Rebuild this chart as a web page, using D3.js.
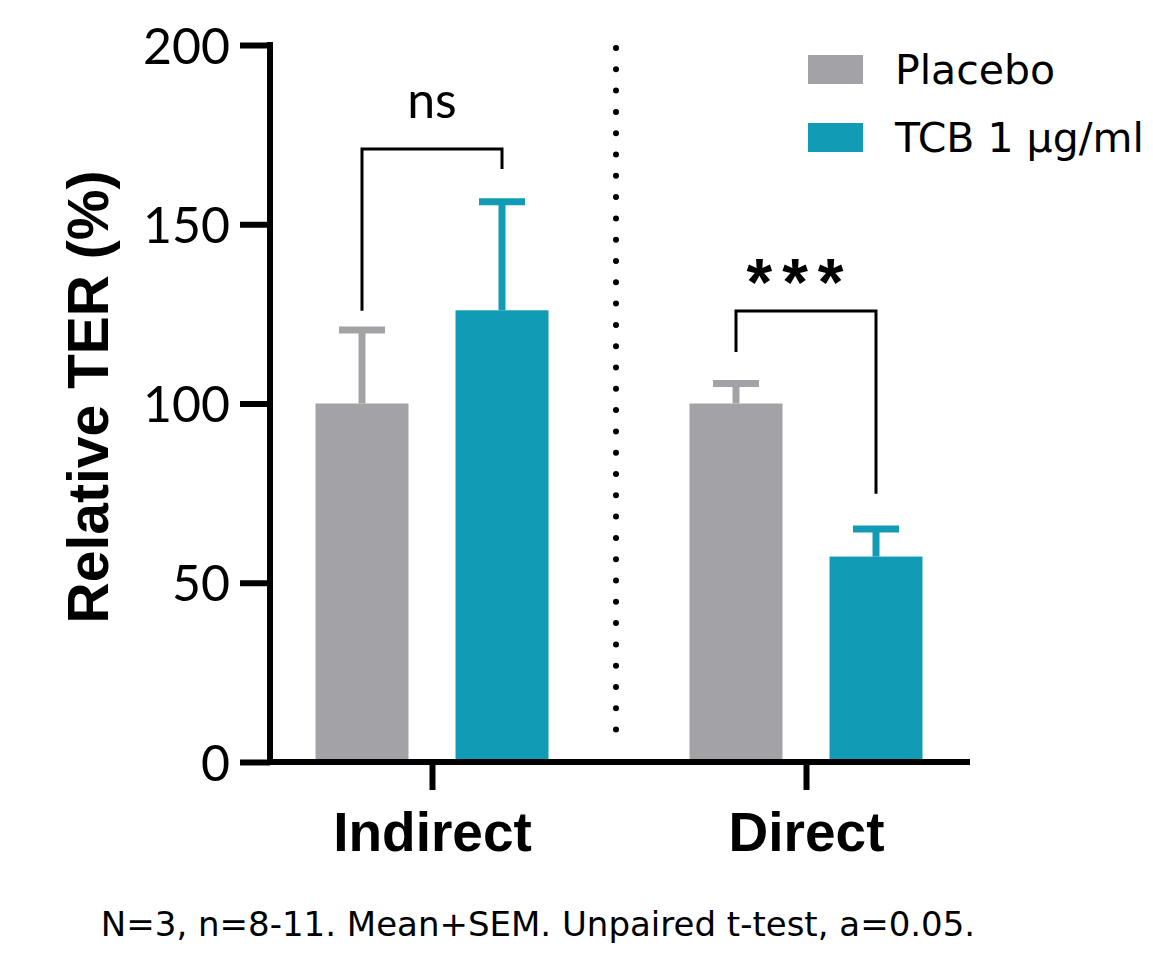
<!DOCTYPE html>
<html><head><meta charset="utf-8">
<script src="https://cdn.jsdelivr.net/npm/d3@7"></script>
<style>body{margin:0;background:#fff;} svg{display:block;}</style>
</head><body>
<svg id="c" width="1153" height="958"></svg>
<script>
const groups = ["Indirect", "Direct"];
const series = ["Placebo", "TCB 1 µg/ml"];
const colors = ["#a3a2a7", "#119bb5"];
const means = [[100, 126], [100, 57.3]];
const sem = [[20.5, 30.3], [5.6, 7.7]];
const yTicks = [0, 50, 100, 150, 200];
const sigLabels = ["ns", "***"];
const sigTop = [171, 125.8];
const sigLegs = [[125.9, 165.4], [114.4, 74.8]];
const footer = "N=3, n=8-11. Mean+SEM. Unpaired t-test, a=0.05.";
const yTitle = "Relative TER (%)";

const svg = d3.select("#c");
const regFont = "'Lato', 'Open Sans', sans-serif";
const wideFont = "'DejaVu Sans', sans-serif";
const boldFont = "'Liberation Sans', Arial, sans-serif";

const y = d3.scaleLinear().domain([0, 200]).range([762, 45]);
const x0 = d3.scaleBand().domain(groups).range([245, 993]).padding(0);
const x1 = d3.scalePoint().domain(series).range([117, 257]);
const barW = 93;

// bars
groups.forEach((g, gi) => {
  series.forEach((s, si) => {
    const cx = x0(g) + x1(s);
    const v = means[gi][si], e = sem[gi][si];
    svg.append("rect").attr("x", cx - barW / 2).attr("y", y(v))
      .attr("width", barW).attr("height", y(0) - y(v)).attr("fill", colors[si]);
    svg.append("line").attr("x1", cx).attr("x2", cx).attr("y1", y(v)).attr("y2", y(v + e))
      .attr("stroke", colors[si]).attr("stroke-width", 7);
    svg.append("line").attr("x1", cx - 23).attr("x2", cx + 23).attr("y1", y(v + e)).attr("y2", y(v + e))
      .attr("stroke", colors[si]).attr("stroke-width", 7);
  });
  // significance bracket
  const lx = x0(g) + x1(series[0]), rx = x0(g) + x1(series[1]);
  svg.append("path")
    .attr("d", `M${lx},${y(sigLegs[gi][0])}V${y(sigTop[gi])}H${rx}V${y(sigLegs[gi][1])}`)
    .attr("fill", "none").attr("stroke", "#000").attr("stroke-width", 3);
  const t = svg.append("text")
    .attr("text-anchor", "middle").attr("fill", "#000").text(sigLabels[gi]);
  if (gi === 0) {
    t.attr("x", (lx + rx) / 2).attr("y", y(sigTop[gi]) - 31).attr("font-family", regFont).attr("font-size", 50);
  } else {
    t.attr("x", (lx + rx) / 2 - 6).attr("y", y(sigTop[gi]) - 6).attr("font-family", boldFont)
      .attr("font-weight", "bold").attr("font-size", 66).attr("letter-spacing", 10);
  }
});

// dotted separator
const sepX = x0("Direct") - 3;
svg.append("line").attr("x1", sepX).attr("x2", sepX).attr("y1", 48).attr("y2", 745)
  .attr("stroke", "#000").attr("stroke-width", 6).attr("stroke-linecap", "round")
  .attr("stroke-dasharray", "0,21.3");

// y axis
const yAxis = svg.append("g").attr("transform", "translate(270,0)")
  .call(d3.axisLeft(y).tickValues(yTicks).tickSize(30).tickSizeOuter(0).tickPadding(10));
yAxis.select(".domain").attr("stroke-width", 6).attr("d", `M0,${y(200) - 3}V${y(0) + 3}`);
yAxis.selectAll(".tick line").attr("stroke-width", 6);
yAxis.selectAll(".tick text").attr("font-family", regFont).attr("font-size", 50)
  .attr("fill", "#000").attr("dy", "0.36em");

// x axis
svg.append("line").attr("x1", 267).attr("x2", 970).attr("y1", y(0)).attr("y2", y(0))
  .attr("stroke", "#000").attr("stroke-width", 6);
const xAxis = svg.append("g").attr("transform", `translate(0,${y(0)})`)
  .call(d3.axisBottom(d3.scalePoint().domain(groups).range([x0("Indirect") + 187, x0("Direct") + 187]))
    .tickSize(28).tickSizeOuter(0).tickPadding(50));
xAxis.select(".domain").remove();
xAxis.selectAll(".tick line").attr("stroke-width", 6);
xAxis.selectAll(".tick text").attr("font-family", boldFont).attr("font-weight", "bold")
  .attr("font-size", 55).attr("fill", "#000").attr("dy", "0.2em");

// y title
svg.append("text").attr("transform", "translate(108,397) rotate(-90)")
  .attr("text-anchor", "middle").attr("font-family", boldFont).attr("font-weight", "bold")
  .attr("font-size", 57).attr("fill", "#000").text(yTitle);

// legend
series.forEach((s, i) => {
  const ly = 55 + i * 68;
  svg.append("rect").attr("x", 808).attr("y", ly).attr("width", 55).attr("height", 29).attr("fill", colors[i]);
  svg.append("text").attr("x", 895).attr("y", ly + 29).attr("font-family", wideFont)
    .attr("font-size", 41).attr("fill", "#000").text(s);
});

// footer
svg.append("text").attr("x", 538).attr("y", 936).attr("text-anchor", "middle")
  .attr("font-family", wideFont).attr("font-size", 34).attr("fill", "#000").text(footer);
</script>
</body></html>
